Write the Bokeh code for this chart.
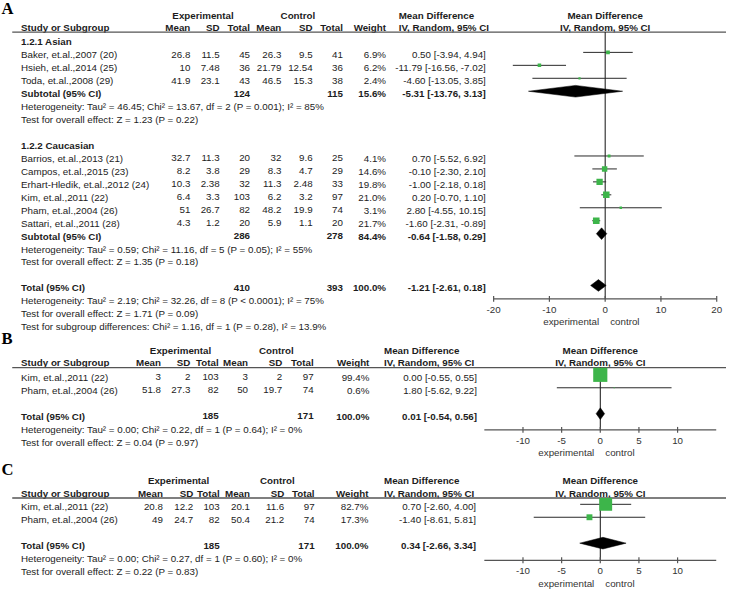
import math
from bokeh.plotting import figure
from bokeh.models import ColumnDataSource, Range1d
from bokeh.core.properties import value
from bokeh.embed import file_html
from bokeh.resources import INLINE

# ======================= DATA =======================
# ---- Panel A ----
a_group_names = ["1.2.1 Asian", "1.2.2 Caucasian"]
a_group_of_study = [0, 0, 0, 1, 1, 1, 1, 1, 1]
a_study = ["Baker, et.al.,2007 (20)", "Hsieh, et.al.,2014 (25)", "Toda, et.al.,2008 (29)",
           "Barrios, et.al.,2013 (21)", "Campos, et.al.,2015 (23)", "Erhart-Hledik, et.al.,2012 (24)",
           "Kim, et.al.,2011 (22)", "Pham, et.al.,2004 (26)", "Sattari, et.al.,2011 (28)"]
a_exp_mean = [26.8, 10, 41.9, 32.7, 8.2, 10.3, 6.4, 51, 4.3]
a_exp_sd = [11.5, 7.48, 23.1, 11.3, 3.8, 2.38, 3.3, 26.7, 1.2]
a_exp_n = [45, 36, 43, 20, 29, 32, 103, 82, 20]
a_ctl_mean = [26.3, 21.79, 46.5, 32, 8.3, 11.3, 6.2, 48.2, 5.9]
a_ctl_sd = [9.5, 12.54, 15.3, 9.6, 4.7, 2.48, 3.2, 19.9, 1.1]
a_ctl_n = [41, 36, 38, 25, 29, 33, 97, 74, 20]
a_weight = [6.9, 6.2, 2.4, 4.1, 14.6, 19.8, 21.0, 3.1, 21.7]
a_md = [0.50, -11.79, -4.60, 0.70, -0.10, -1.00, 0.20, 2.80, -1.60]
a_lo = [-3.94, -16.56, -13.05, -5.52, -2.30, -2.18, -0.70, -4.55, -2.31]
a_hi = [4.94, -7.02, 3.85, 6.92, 2.10, 0.18, 1.10, 10.15, -0.89]
a_sub_exp_n = [124, 286]
a_sub_ctl_n = [115, 278]
a_sub_weight = [15.6, 84.4]
a_sub_md = [-5.31, -0.64]
a_sub_lo = [-13.76, -1.58]
a_sub_hi = [3.13, 0.29]
a_sub_het = ["Heterogeneity: Tau\u00b2 = 46.45; Chi\u00b2 = 13.67, df = 2 (P = 0.001); I\u00b2 = 85%",
             "Heterogeneity: Tau\u00b2 = 0.59; Chi\u00b2 = 11.16, df = 5 (P = 0.05); I\u00b2 = 55%"]
a_sub_test = ["Test for overall effect: Z = 1.23 (P = 0.22)",
              "Test for overall effect: Z = 1.35 (P = 0.18)"]
a_tot = [410, 393, 100.0, -1.21, -2.61, 0.18]  # exp n, ctl n, weight, md, lo, hi
a_tot_notes = ["Heterogeneity: Tau\u00b2 = 2.19; Chi\u00b2 = 32.26, df = 8 (P < 0.0001); I\u00b2 = 75%",
               "Test for overall effect: Z = 1.71 (P = 0.09)",
               "Test for subgroup differences: Chi\u00b2 = 1.16, df = 1 (P = 0.28), I\u00b2 = 13.9%"]
a_ticks = [-20, -10, 0, 10, 20]
a_axis_lims = [-20, 20]

# ---- Panel B ----
b_study = ["Kim, et.al.,2011 (22)", "Pham, et.al.,2004 (26)"]
b_exp_mean = [3, 51.8]
b_exp_sd = [2, 27.3]
b_exp_n = [103, 82]
b_ctl_mean = [3, 50]
b_ctl_sd = [2, 19.7]
b_ctl_n = [97, 74]
b_weight = [99.4, 0.6]
b_md = [0.00, 1.80]
b_lo = [-0.55, -5.62]
b_hi = [0.55, 9.22]
b_tot = [185, 171, 100.0, 0.01, -0.54, 0.56]
b_tot_notes = ["Heterogeneity: Tau\u00b2 = 0.00; Chi\u00b2 = 0.22, df = 1 (P = 0.64); I\u00b2 = 0%",
               "Test for overall effect: Z = 0.04 (P = 0.97)"]

# ---- Panel C ----
c_study = ["Kim, et.al.,2011 (22)", "Pham, et.al.,2004 (26)"]
c_exp_mean = [20.8, 49]
c_exp_sd = [12.2, 24.7]
c_exp_n = [103, 82]
c_ctl_mean = [20.1, 50.4]
c_ctl_sd = [11.6, 21.2]
c_ctl_n = [97, 74]
c_weight = [82.7, 17.3]
c_md = [0.70, -1.40]
c_lo = [-2.60, -8.61]
c_hi = [4.00, 5.81]
c_tot = [185, 171, 100.0, 0.34, -2.66, 3.34]
c_tot_notes = ["Heterogeneity: Tau\u00b2 = 0.00; Chi\u00b2 = 0.27, df = 1 (P = 0.60); I\u00b2 = 0%",
               "Test for overall effect: Z = 0.22 (P = 0.83)"]
bc_ticks = [-10, -5, 0, 5, 10]
bc_axis_lims = [-15, 15]

col_headers = ["Mean", "SD", "Total", "Mean", "SD", "Total", "Weight"]

# ======================= STYLE / LAYOUT =======================
W_REF, H_REF = 742, 605
W, H = 726, 589
S = W / W_REF
SANS = value("Liberation Sans")
SERIF = value("Liberation Serif")
FS = f"{10 * S:.2f}px"
TXT = "#1c1c1c"
GREEN = "#3db54a"
PITCH = 13.3
OFF = -2.5
SQ_K = 1.45

A_X0, A_UNIT = 618, 5.7
BC_X0, BC_UNIT = 613, 7.9

p = figure(width=W, height=H, x_range=Range1d(0, W_REF), y_range=Range1d(H_REF, 0),
           output_backend="svg", toolbar_location=None,
           x_axis_location=None, y_axis_location=None, min_border=0,
           outline_line_color=None, background_fill_color="white", border_fill_color="white")
p.grid.visible = False
p.extra_x_ranges = {
    "mdA": Range1d(-A_X0 / A_UNIT, (W_REF - A_X0) / A_UNIT),
    "mdB": Range1d(-BC_X0 / BC_UNIT, (W_REF - BC_X0) / BC_UNIT),
    "mdC": Range1d(-BC_X0 / BC_UNIT, (W_REF - BC_X0) / BC_UNIT),
}


def g(v):
    return f"{v:g}"


def ci(md, lo, hi):
    return f"{md:.2f} [{lo:.2f}, {hi:.2f}]"


def put_text(d, align, bold=False, rng="default", font=SANS, size=FS, color=TXT, x_offset=0):
    if not d["x"]:
        return
    src = ColumnDataSource(dict(x=d["x"], y=d["y"], t=d["t"]))
    p.text(x="x", y="y", text="t", source=src, text_font=font, text_font_size=size,
           text_font_style="bold" if bold else "normal", text_align=align,
           text_baseline="middle", text_color=color, x_range_name=rng, x_offset=x_offset)


def newd():
    return dict(x=[], y=[], t=[])


def add(d, x, y, t):
    d["x"].append(x)
    d["y"].append(y)
    d["t"].append(t)


def draw_panel(rng, letter, letter_y, hdr1_y, hdr2_y, line_y, exp_cx, ctl_cx, md_x, cols,
               rows, axis_y, ticks, lims):
    Ln, Lb, Rn, Rb, Cb = newd(), newd(), newd(), newd(), newd()
    FH = newd()
    # headers
    add(Cb, exp_cx, hdr1_y, "Experimental")
    add(Cb, ctl_cx, hdr1_y, "Control")
    add(Lb, md_x, hdr1_y, "Mean Difference")
    add(Lb, 21, hdr2_y, "Study or Subgroup")
    for cx, h in zip(cols[:7], col_headers):
        add(Rb, cx, hdr2_y, h)
    add(Lb, md_x, hdr2_y, "IV, Random, 95% CI")
    add(FH, 0, hdr1_y, "Mean Difference")
    add(FH, 0, hdr2_y, "IV, Random, 95% CI")

    seg = dict(x0=[], x1=[], y=[])
    sq = dict(x=[], y=[], s=[])
    dia = dict(xs=[], ys=[])
    for r in rows:
        kind, y = r[0], r[1]
        if kind == "title":
            add(Lb, 21, y, r[2])
        elif kind == "note":
            add(Ln, 21, y, r[2])
        elif kind == "study":
            name, em, esd, en, cm, csd, cn, w, md, lo, hi = r[2:]
            add(Ln, 21, y, name)
            for cx, v in zip(cols, [em, esd, en, cm, csd, cn]):
                add(Rn, cx, y, g(v))
            add(Rn, cols[6], y, f"{w:.1f}%")
            add(Rn, cols[7], y, ci(md, lo, hi))
            seg["x0"].append(lo)
            seg["x1"].append(hi)
            seg["y"].append(y + OFF)
            sq["x"].append(md)
            sq["y"].append(y + OFF)
            sq["s"].append(SQ_K * math.sqrt(w) * S)
        elif kind == "sum":
            label, en, cn, w, md, lo, hi = r[2:]
            add(Lb, 21, y, label)
            add(Rb, cols[2], y, g(en))
            add(Rb, cols[5], y, g(cn))
            add(Rb, cols[6], y, f"{w:.1f}%")
            add(Rb, cols[7], y, ci(md, lo, hi))
            yc = y + OFF
            dia["xs"].append([lo, md, hi, md])
            dia["ys"].append([yc, yc - 6, yc, yc + 6])

    # panel letter
    let = newd()
    add(let, 1, letter_y, letter)
    put_text(let, "left", bold=True, font=SERIF, size=f"{17 * S:.1f}px", color="#000000")
    put_text(Ln, "left")
    put_text(Lb, "left", bold=True)
    put_text(Rn, "right")
    put_text(Rb, "right", bold=True)
    put_text(Cb, "center", bold=True)
    put_text(FH, "center", bold=True, rng=rng)

    # header rule
    p.segment(x0=[12], x1=[W_REF], y0=[line_y], y1=[line_y], line_color="#555555", line_width=1.3)

    # zero line
    p.segment(x0=[0], x1=[0], y0=[line_y], y1=[axis_y], line_color="#111111", line_width=1,
              x_range_name=rng)
    # CIs
    p.segment(x0="x0", x1="x1", y0="y", y1="y", source=ColumnDataSource(seg),
              line_color="#2a2a2a", line_width=1, x_range_name=rng)
    p.scatter(x="x", y="y", size="s", marker="square", source=ColumnDataSource(sq),
              fill_color=GREEN, line_color=None, x_range_name=rng)
    p.patches(xs="xs", ys="ys", source=ColumnDataSource(dia), fill_color="#000000",
              line_color="#000000", line_width=0.5, x_range_name=rng)

    # axis
    p.segment(x0=[lims[0]], x1=[lims[1]], y0=[axis_y], y1=[axis_y], line_color="#555555",
              line_width=1.2, x_range_name=rng)
    p.segment(x0=ticks, x1=ticks, y0=[axis_y - 3] * len(ticks), y1=[axis_y + 3] * len(ticks),
              line_color="#555555", line_width=1.2, x_range_name=rng)
    tl = dict(x=list(ticks), y=[axis_y + 11] * len(ticks), t=[g(t) for t in ticks])
    put_text(tl, "center", rng=rng, color="#333333")
    put_text(dict(x=[0], y=[axis_y + 23.5], t=["experimental"]), "right", rng=rng,
             color="#333333", x_offset=-6)
    put_text(dict(x=[0], y=[axis_y + 23.5], t=["control"]), "left", rng=rng,
             color="#333333", x_offset=5)


# ---------- build rows: A ----------
A_FIRST = 42.5
rows_A = []
i = 0
for gi, gname in enumerate(a_group_names):
    rows_A.append(("title", A_FIRST + PITCH * i, gname))
    i += 1
    for k in range(len(a_study)):
        if a_group_of_study[k] != gi:
            continue
        rows_A.append(("study", A_FIRST + PITCH * i, a_study[k], a_exp_mean[k], a_exp_sd[k], a_exp_n[k],
                       a_ctl_mean[k], a_ctl_sd[k], a_ctl_n[k], a_weight[k], a_md[k], a_lo[k], a_hi[k]))
        i += 1
    rows_A.append(("sum", A_FIRST + PITCH * i, "Subtotal (95% CI)", a_sub_exp_n[gi], a_sub_ctl_n[gi],
                   a_sub_weight[gi], a_sub_md[gi], a_sub_lo[gi], a_sub_hi[gi]))
    i += 1
    rows_A.append(("note", A_FIRST + PITCH * i, a_sub_het[gi]))
    i += 1
    rows_A.append(("note", A_FIRST + PITCH * i, a_sub_test[gi]))
    i += 2
rows_A.append(("sum", A_FIRST + PITCH * i, "Total (95% CI)", *a_tot))
i += 1
for note in a_tot_notes:
    rows_A.append(("note", A_FIRST + PITCH * i, note))
    i += 1


def simple_rows(first, study, em, esd, en, cm, csd, cn, w, md, lo, hi, tot, notes):
    rows = []
    j = 0
    for k in range(len(study)):
        rows.append(("study", first + PITCH * j, study[k], em[k], esd[k], en[k], cm[k], csd[k], cn[k],
                     w[k], md[k], lo[k], hi[k]))
        j += 1
    j += 1
    rows.append(("sum", first + PITCH * j, "Total (95% CI)", *tot))
    j += 1
    for n in notes:
        rows.append(("note", first + PITCH * j, n))
        j += 1
    return rows


rows_B = simple_rows(387, b_study, b_exp_mean, b_exp_sd, b_exp_n, b_ctl_mean, b_ctl_sd, b_ctl_n,
                     b_weight, b_md, b_lo, b_hi, b_tot, b_tot_notes)
rows_C = simple_rows(520, c_study, c_exp_mean, c_exp_sd, c_exp_n, c_ctl_mean, c_ctl_sd, c_ctl_n,
                     c_weight, c_md, c_lo, c_hi, c_tot, c_tot_notes)

draw_panel("mdA", "A", 8, 15, 28, 32.5, 207, 304, 407,
           [194, 224, 255, 287, 319, 350, 394, 496], rows_A, 306.5, a_ticks, a_axis_lims)
draw_panel("mdB", "B", 347, 359, 372, 377, 184, 282, 392,
           [164, 194, 223, 253, 288, 320, 377, 487], rows_B, 441, bc_ticks, bc_axis_lims)
draw_panel("mdC", "C", 482, 493, 506, 511, 182, 283, 392,
           [166, 197, 224, 255, 290, 321, 376, 486], rows_C, 575, bc_ticks, bc_axis_lims)

open("out.html", "w").write(file_html(p, INLINE))
